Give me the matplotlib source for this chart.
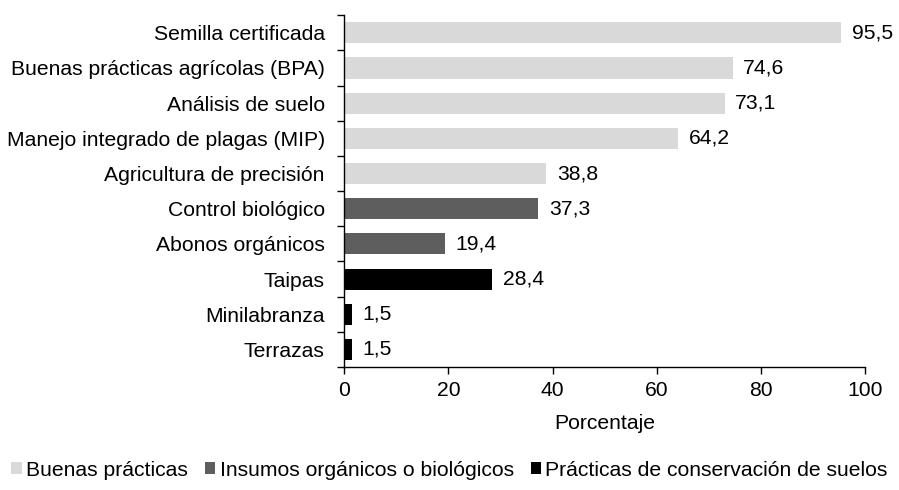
import numpy as np
import matplotlib.pyplot as plt
from matplotlib.patches import Patch

plt.rcParams['font.family'] = ['Liberation Sans', 'DejaVu Sans']

categorias = ["Semilla certificada", "Buenas prácticas agrícolas (BPA)", "Análisis de suelo",
              "Manejo integrado de plagas (MIP)", "Agricultura de precisión", "Control biológico",
              "Abonos orgánicos", "Taipas", "Minilabranza", "Terrazas"]
valores = [95.5, 74.6, 73.1, 64.2, 38.8, 37.3, 19.4, 28.4, 1.5, 1.5]
grupos = [0, 0, 0, 0, 0, 1, 1, 2, 2, 2]
grupo_nombres = ["Buenas prácticas", "Insumos orgánicos o biológicos",
                 "Prácticas de conservación de suelos"]
grupo_colores = ["#d9d9d9", "#5e5e5e", "#000000"]

fs = 15.2

fig = plt.figure(figsize=(8.99, 4.9), dpi=100)
ax = fig.add_axes([0.383, 0.251, 0.579, 0.718])

y = np.arange(len(categorias))[::-1]
colores = [grupo_colores[g] for g in grupos]
ax.barh(y, valores, height=0.6, color=colores)

for yi, v in zip(y, valores):
    ax.text(v + 2.0, yi, f"{v:.1f}".replace(".", ","), va="center", ha="left", fontsize=fs)

ax.set_xlim(0, 100)
ax.set_ylim(-0.5, len(categorias) - 0.5)
ax.set_xticks([0, 20, 40, 60, 80, 100])
ax.tick_params(axis="x", labelsize=fs, length=5, width=1, pad=5)
ax.set_yticks(y)
ax.set_yticklabels(categorias, fontsize=fs)
ax.tick_params(axis="y", length=0, pad=14)
ax.set_yticks(np.arange(len(categorias) + 1) - 0.5, minor=True)
ax.tick_params(axis="y", which="minor", length=5, width=1)
ax.set_xlabel("Porcentaje", fontsize=fs, labelpad=10)

for s in ["top", "right"]:
    ax.spines[s].set_visible(False)
ax.spines["left"].set_linewidth(1)
ax.spines["bottom"].set_linewidth(1)

handles = [Patch(facecolor=c, label=n) for c, n in zip(grupo_colores, grupo_nombres)]
fig.legend(handles=handles, loc="center", bbox_to_anchor=(0.5, 0.04), ncol=3, frameon=False,
           fontsize=fs, handlelength=0.5, handleheight=0.5, handletextpad=0.2, columnspacing=0.8)

fig.savefig("out.png", dpi=100)
